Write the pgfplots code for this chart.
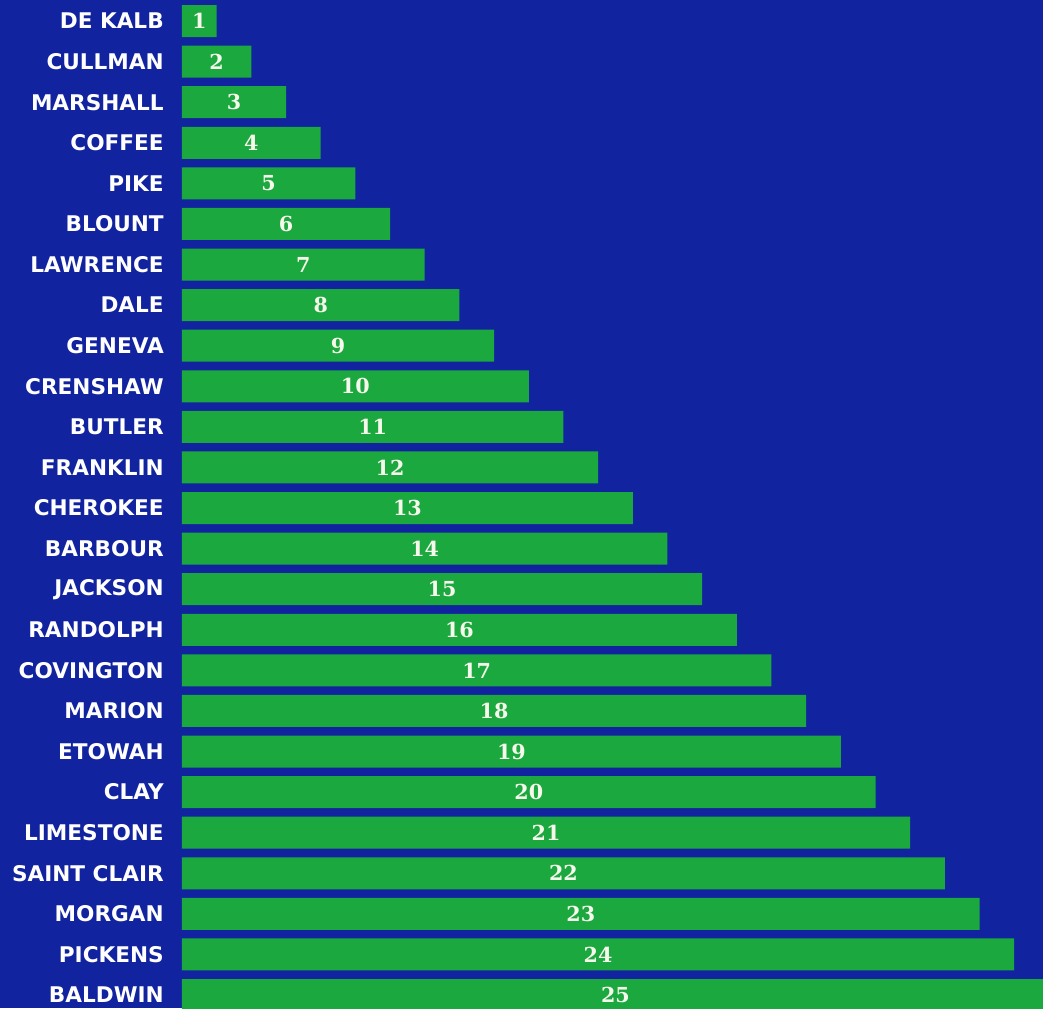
\documentclass[border=0pt]{standalone}
\usepackage{pgfplots}
\pgfplotsset{compat=1.18}
\usepackage{fontspec}
\setmainfont{DejaVu Sans}
\newfontfamily\labfont{DejaVu Sans Bold}
\newfontfamily\numfont{DejaVu Serif Bold}
\definecolor{bg}{RGB}{17,35,158}
\definecolor{barc}{RGB}{27,168,63}
\definecolor{numc}{RGB}{245,248,235}
\begin{document}
\begin{tikzpicture}
\path[use as bounding box, fill=bg] (-136.5pt,0) rectangle (645.75pt,756pt);
\begin{axis}[
  at={(0,0)}, anchor=south west,
  scale only axis, width=645.75pt, height=756pt,
  xmin=0, xmax=24.83, ymin=0.4825, ymax=25.32,
  y dir=reverse,
  xbar, bar width=24pt,
  axis line style={draw=none},
  major tick length=0pt,
  xtick=\empty,
  ytick={1,...,25},
  yticklabels={DE KALB,CULLMAN,MARSHALL,COFFEE,PIKE,BLOUNT,LAWRENCE,DALE,GENEVA,CRENSHAW,BUTLER,FRANKLIN,CHEROKEE,BARBOUR,JACKSON,RANDOLPH,COVINGTON,MARION,ETOWAH,CLAY,LIMESTONE,SAINT CLAIR,MORGAN,PICKENS,BALDWIN},
  yticklabel style={font=\labfont\fontsize{16.2}{19}\selectfont, text=white, inner sep=0pt, xshift=-13.5pt},
  /pgf/number format/assume math mode=true,
  clip=false,
]
\addplot[fill=barc, draw=none,
  nodes near coords,
  visualization depends on={rawx \as \rawx},
  every node near coord/.append style={anchor=center, text=numc, font=\numfont\fontsize{15.5}{18}\selectfont, shift={(axis direction cs:-\rawx/2,0)}},
] coordinates {
(1,1) (2,2) (3,3) (4,4) (5,5) (6,6) (7,7) (8,8) (9,9) (10,10)
(11,11) (12,12) (13,13) (14,14) (15,15) (16,16) (17,17) (18,18) (19,19) (20,20)
(21,21) (22,22) (23,23) (24,24) (25,25)
};
\end{axis}
\end{tikzpicture}
\end{document}
